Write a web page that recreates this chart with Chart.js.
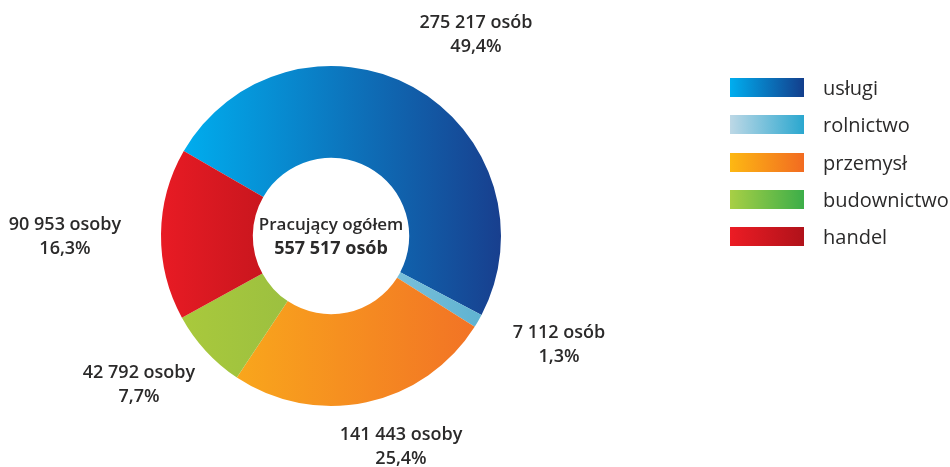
<!DOCTYPE html>
<html lang="pl">
<head>
<meta charset="utf-8">
<title>Pracujący według sektorów</title>
<script src="https://cdn.jsdelivr.net/npm/chart.js@4"></script>
<style>
  html, body { margin: 0; padding: 0; background: #fff; }
  #wrap { position: relative; width: 950px; height: 467px; overflow: hidden; }
  #pie { position: absolute; left: 0; top: 0; }
  #legend { position: absolute; left: 730px; top: 69px; margin: 0; padding: 0; list-style: none; }
  #legend li { display: flex; align-items: center; height: 37.3px;
    font: 400 20px "Open Sans", sans-serif; color: #2b2a2a; white-space: nowrap; }
  #legend .box { width: 74px; height: 19px; margin-right: 19px; flex: none; }
</style>
</head>
<body>
<div id="wrap">
  <canvas id="pie" width="950" height="467"></canvas>
  <ul id="legend"></ul>
</div>
<script>
'use strict';

/* ── dane ─────────────────────────────────── */
const categories = ['usługi', 'rolnictwo', 'przemysł', 'budownictwo', 'handel'];
const workers    = [275217, 7112, 141443, 42792, 90953];
const centerTitle = 'Pracujący ogółem';

/* ── kolory (gradient od lewej do prawej) ─── */
const sliceFrom  = ['#00adee', '#78bfda', '#f9a61c', '#a9c93c', '#e81b24'];
const sliceTo    = ['#183f8e', '#5fb3d1', '#f27325', '#9cc040', '#c9161e'];
const legendFrom = ['#00aeef', '#bdd8e6', '#fdb813', '#a8cf45', '#ec1c24'];
const legendTo   = ['#133e8c', '#2aa7cf', '#f26b21', '#3cae49', '#b0121a'];

// przesunięcia podpisów względem środka wykresu (px)
const labelOffsets = [[145, -201], [228, 109], [70, 211], [-192, 149], [-266, 1]];

const TEXT = '#2b2a2a';
const FONT = '"Open Sans", sans-serif';

/* ── utils ────────────────────────────────── */
const total = workers.reduce((a, b) => a + b, 0);
function fmtNum(n) { return String(n).replace(/\B(?=(\d{3})+(?!\d))/g, ' '); }
function personWord(n) {
  const d = n % 10, dd = n % 100;
  return (d >= 2 && d <= 4 && !(dd >= 12 && dd <= 14)) ? 'osoby' : 'osób';
}
function pct(n) { return (n / total * 100).toFixed(1).replace('.', ',') + '%'; }

function arcGradient(ctx) {
  const i = ctx.dataIndex;
  const arc = ctx.element;
  if (!arc || arc.outerRadius == null) return sliceFrom[i];
  let minX = Infinity, maxX = -Infinity;
  for (let k = 0; k <= 40; k++) {
    const a = arc.startAngle + (arc.endAngle - arc.startAngle) * k / 40;
    for (const r of [arc.innerRadius, arc.outerRadius]) {
      const x = arc.x + r * Math.cos(a);
      if (x < minX) minX = x;
      if (x > maxX) maxX = x;
    }
  }
  const g = ctx.chart.ctx.createLinearGradient(minX, 0, maxX, 0);
  g.addColorStop(0, sliceFrom[i]);
  g.addColorStop(1, sliceTo[i]);
  return g;
}

/* ── podpisy i środek ─────────────────────── */
const labelPlugin = {
  id: 'sliceLabels',
  afterDatasetsDraw(chart) {
    const meta = chart.getDatasetMeta(0);
    if (!meta.data.length) return;
    const c = chart.ctx;
    const cx = meta.data[0].x, cy = meta.data[0].y;
    c.save();
    c.fillStyle = TEXT;
    c.textAlign = 'center';
    c.textBaseline = 'middle';
    workers.forEach((v, i) => {
      const [dx, dy] = labelOffsets[i];
      c.font = '600 18px ' + FONT;
      c.fillText(fmtNum(v) + ' ' + personWord(v), cx + dx, cy + dy - 12);
      c.fillText(pct(v), cx + dx, cy + dy + 12);
    });
    c.font = '600 17px ' + FONT;
    c.fillText(centerTitle, cx, cy - 11);
    c.font = '700 18px ' + FONT;
    c.fillText(fmtNum(total) + ' ' + personWord(total), cx, cy + 13);
    c.restore();
  }
};

/* ── legenda ──────────────────────────────── */
function renderLegend() {
  const ul = document.getElementById('legend');
  ul.innerHTML = categories.map((name, i) =>
    `<li><span class="box" style="background:linear-gradient(to right, ${legendFrom[i]}, ${legendTo[i]})"></span>${name}</li>`
  ).join('');
}

/* ── wykres ───────────────────────────────── */
function init() {
  renderLegend();
  const chart = new Chart(document.getElementById('pie').getContext('2d'), {
    type: 'doughnut',
    data: {
      labels: categories,
      datasets: [{
        data: workers,
        backgroundColor: arcGradient,
        borderWidth: 0,
      }],
    },
    options: {
      responsive: false,
      animation: false,
      cutout: '46%',
      rotation: -60,
      layout: { padding: { left: 161, right: 449, top: 66, bottom: 61 } },
      plugins: { legend: { display: false }, tooltip: { enabled: false } },
    },
    plugins: [labelPlugin],
  });
  chart.update();
}

document.addEventListener('DOMContentLoaded', init);
</script>
</body>
</html>
